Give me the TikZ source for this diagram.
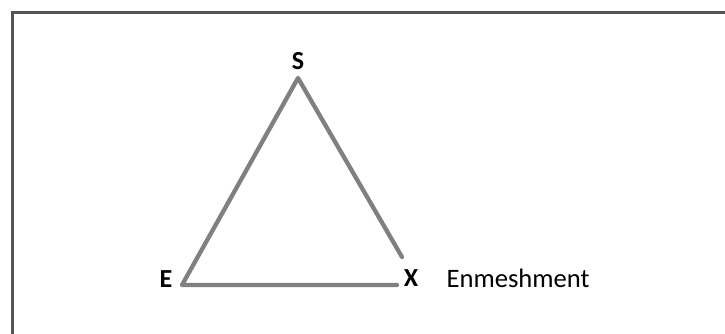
\documentclass[tikz,border=0pt]{standalone}
\usepackage{fontspec}
\setmainfont{Carlito}
\usepackage{tikz}
\usetikzlibrary{positioning}
\definecolor{gris}{RGB}{128,128,128}
\definecolor{cadre}{RGB}{85,85,85}

\begin{document}
\begin{tikzpicture}[x=1pt, y=1pt,
	sommet/.style={font=\fontsize{26}{30}\selectfont\bfseries, inner sep=0pt},
	cote/.style={gris, line width=4.3pt, line cap=round}]
				\useasboundingbox (0,0) rectangle (725,333);
				% cadre
				\draw[cadre, line width=2.6pt] (12.5,-10) -- (12.5,320.5) -- (730,320.5);
				% sommets
				\coordinate (haut) at (298,255);
				\coordinate (gauche) at (182,48);
				\coordinate (bas) at (397,48);
				\coordinate (droite) at (402,76);
				\node[sommet] (S) at (298,272) {S};
				\node[sommet] (E) at (166,54) {E};
				\node[sommet] (X) at (411,55) {X};
				\node[font=\fontsize{26.6}{30}\selectfont, inner sep=0pt, anchor=west, right=28pt of X] (enm) {Enmeshment};
				% triangle
				\draw[cote, line join=round] (droite) -- (haut) -- (gauche) -- (bas);
			\end{tikzpicture}
\end{document}
